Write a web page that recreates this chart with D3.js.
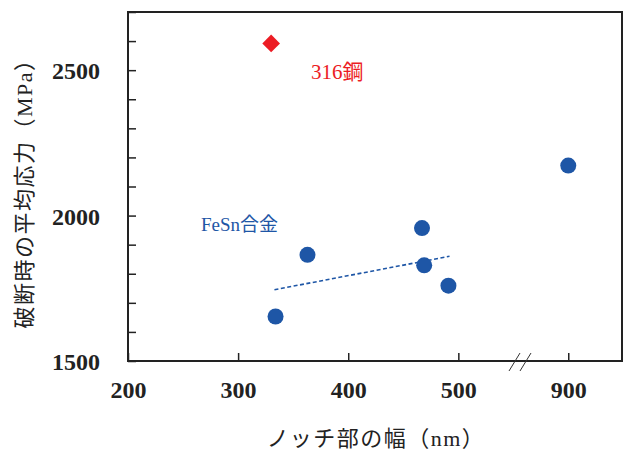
<!DOCTYPE html>
<html>
<head>
<meta charset="utf-8">
<script src="https://cdn.jsdelivr.net/npm/d3@7"></script>
<style>
  body { margin: 0; background: #fff; }
  svg { display: block; }
  .tick text { font-family: "Liberation Serif", serif; font-weight: bold; font-size: 24px; fill: #222; }
</style>
</head>
<body>
<div id="chart"></div>
<script>
// FeSn alloy points (notch width nm, mean stress at fracture MPa)
var fesnX = [334, 363, 467, 469, 491, 900];
var fesnY = [1653, 1865, 1957, 1829, 1759, 2172];
// 316 steel
var steelX = [330];
var steelY = [2592];
// dashed fit line end points
var trendX = [333, 492];
var trendY = [1745, 1860];

var xTicks = [200, 300, 400, 500, 900];
var yTicks = d3.range(1500, 2701, 100);
var yLabels = [1500, 2000, 2500];

var W = 624, H = 450;
var plotL = 128, plotR = 622, plotT = 12, plotB = 361;
var blue = "#1e56a6", red = "#ec1c24";

var svg = d3.select("#chart").append("svg")
    .attr("width", W)
    .attr("height", H);

// broken x axis: 200-556 then 856-950
var x = d3.scaleLinear()
    .domain([200, 556, 856, 949])
    .range([plotL, 520, 520, plotR]);
var y = d3.scaleLinear()
    .domain([1500, 2700])
    .range([plotB, plotT]);

// axes
var xAxis = svg.append("g")
    .attr("transform", "translate(0," + plotB + ")")
    .call(d3.axisBottom(x).tickValues(xTicks).tickSizeInner(-8).tickSizeOuter(0).tickPadding(0));
xAxis.select(".domain").remove();
xAxis.selectAll(".tick line").attr("stroke", "#222").attr("stroke-width", 1.5);
xAxis.selectAll(".tick text").attr("y", 37).attr("dy", null);

var yAxis = svg.append("g")
    .attr("transform", "translate(" + plotL + ",0)")
    .call(d3.axisLeft(y).tickValues(yTicks).tickSizeInner(-8).tickSizeOuter(0).tickPadding(28)
        .tickFormat(function(d) { return yLabels.indexOf(d) >= 0 ? d : ""; }));
yAxis.select(".domain").remove();
yAxis.selectAll(".tick line").attr("stroke", "#222").attr("stroke-width", 1.5);
yAxis.selectAll(".tick text").attr("dy", "0.36em");

// frame
svg.append("rect")
    .attr("x", plotL).attr("y", plotT)
    .attr("width", plotR - plotL).attr("height", plotB - plotT)
    .attr("fill", "none").attr("stroke", "#222").attr("stroke-width", 2);

// axis break marks
svg.append("g").selectAll("line")
    .data([0, 11])
    .enter().append("line")
    .attr("x1", function(d) { return 509 + d; })
    .attr("y1", 371)
    .attr("x2", function(d) { return 520 + d; })
    .attr("y2", 353)
    .attr("stroke", "#333")
    .attr("stroke-width", 1);

// fit line
svg.append("line")
    .attr("x1", x(trendX[0])).attr("y1", y(trendY[0]))
    .attr("x2", x(trendX[1])).attr("y2", y(trendY[1]))
    .attr("stroke", blue)
    .attr("stroke-width", 1.6)
    .attr("stroke-dasharray", "4,2.5");

// FeSn points
svg.append("g").selectAll("circle")
    .data(fesnX)
    .enter().append("circle")
    .attr("cx", function(d) { return x(d); })
    .attr("cy", function(d, i) { return y(fesnY[i]); })
    .attr("r", 8)
    .attr("fill", blue);

// 316 steel point
svg.append("g").selectAll("path")
    .data(steelX)
    .enter().append("path")
    .attr("d", d3.symbol().type(d3.symbolDiamond2).size(200))
    .attr("transform", function(d, i) { return "translate(" + x(d) + "," + y(steelY[i]) + ")"; })
    .attr("fill", red);

// labels
svg.append("text")
    .attr("x", 311).attr("y", 79)
    .attr("font-family", "'Liberation Serif', 'Noto Sans CJK JP', serif")
    .attr("font-size", 21)
    .attr("fill", red)
    .text("316鋼");

svg.append("text")
    .attr("x", 201).attr("y", 231)
    .attr("font-family", "'Liberation Serif', 'Noto Sans CJK JP', serif")
    .attr("font-size", 19)
    .attr("fill", blue)
    .text("FeSn合金");

// axis titles
svg.append("text")
    .attr("transform", "translate(32,188) rotate(-90)")
    .attr("text-anchor", "middle")
    .attr("font-family", "'Liberation Serif', 'Noto Sans CJK JP', serif")
    .attr("font-size", 22)
    .attr("letter-spacing", 1.5)
    .attr("fill", "#222")
    .text("破断時の平均応力（MPa）");

svg.append("text")
    .attr("x", 376).attr("y", 446)
    .attr("text-anchor", "middle")
    .attr("font-family", "'Liberation Serif', 'Noto Sans CJK JP', serif")
    .attr("font-size", 22)
    .attr("letter-spacing", 1.5)
    .attr("fill", "#222")
    .text("ノッチ部の幅（nm）");
</script>
</body>
</html>
